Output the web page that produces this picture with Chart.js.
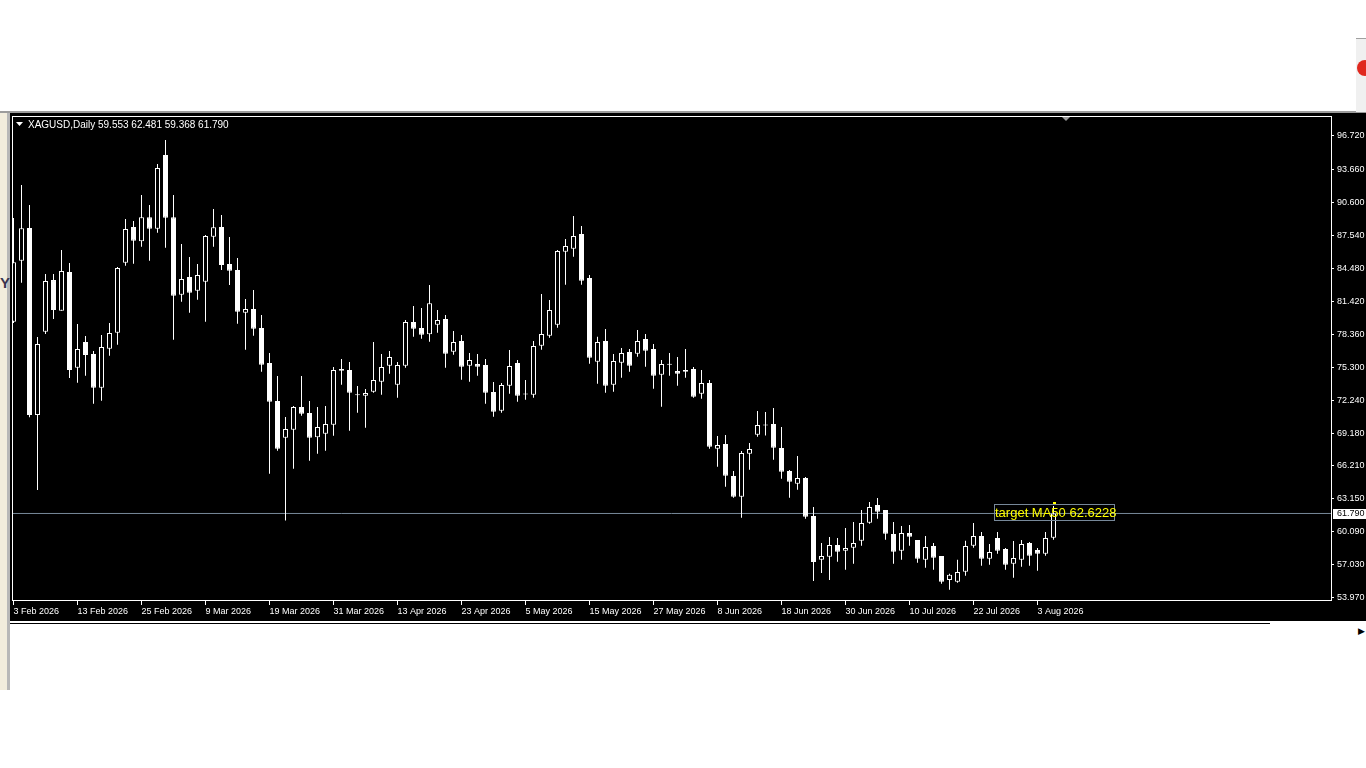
<!DOCTYPE html>
<html>
<head>
<meta charset="utf-8">
<title>XAGUSD,Daily</title>
<script src="https://cdn.jsdelivr.net/npm/chart.js@4.4.1/dist/chart.umd.min.js"></script>
<style>
  html, body { margin: 0; padding: 0; background: #fff; width: 1366px; height: 768px; overflow: hidden; }
  #topline { position: absolute; left: 0; top: 111px; width: 1366px; height: 2px; background: #9c9c9c; }
  #win { position: absolute; left: 10px; top: 113px; width: 1356px; height: 508px; background: #000; }
  #botline { position: absolute; left: 10px; top: 623px; width: 1260px; height: 1px; background: #000; }
  #leftstrip { position: absolute; left: 0; top: 113px; width: 10px; height: 577px; background: #f2eddd;
               border-right: 3px solid #b8b8b8; box-sizing: border-box; }
  #leftY { position: absolute; left: 0; top: 274px; font: bold 15px "Liberation Sans", sans-serif; color: #3a3450; }
  #rightbox { position: absolute; left: 1356px; top: 38px; width: 10px; height: 73px; background: #f0f0f0; border-top: 1px solid #a0a0a0; }
  #reddot { position: absolute; left: 1357px; top: 60px; width: 16px; height: 16px; border-radius: 50%; background: #e0281e; }
  #arrow { position: absolute; left: 1358px; top: 626px; font: 9px "DejaVu Sans", sans-serif; color: #000; }
  canvas { position: absolute; left: 0; top: 0; }
</style>
</head>
<body>
<div id="topline"></div>
<div id="win"></div>
<div id="botline"></div>
<div id="leftstrip"></div>
<div id="leftY">Y</div>
<div id="rightbox"></div>
<div id="reddot"></div>
<div id="arrow">&#9654;</div>
<canvas id="chart" width="1366" height="768"></canvas>
<script>
// Datos de las velas (índice 0 = 3 Feb 2026)
const opens = [
  79.54, 85.18, 88.21, 70.90, 78.61, 83.39, 80.55, 84.14, 75.28, 77.66,
  76.55, 73.43, 77.04, 78.52, 85.00, 88.30, 86.98, 89.20, 88.14, 94.96,
  89.20, 82.04, 83.67, 82.41, 83.24, 87.40, 88.30, 84.87, 84.32, 80.37,
  80.71, 78.95, 75.71, 72.20, 68.80, 69.53, 71.64, 71.09, 68.84, 69.17,
  70.01, 75.16, 75.07, 72.80, 72.69, 73.06, 73.98, 75.47, 73.70, 75.47,
  79.51, 78.95, 78.37, 79.26, 79.79, 76.76, 77.75, 75.47, 75.62, 75.53,
  73.03, 71.30, 73.61, 75.71, 72.86, 72.78, 77.32, 78.24, 79.26, 86.01,
  86.29, 87.65, 83.58, 75.83, 77.75, 73.70, 75.74, 76.73, 76.58, 77.94,
  77.01, 74.63, 75.60, 74.98, 75.07, 75.16, 72.87, 73.86, 67.79, 68.22,
  65.26, 63.34, 67.32, 69.08, 70.00, 70.07, 67.85, 65.72, 64.55, 65.07,
  61.56, 57.51, 57.79, 58.88, 58.35, 58.62, 59.27, 60.94, 62.58, 62.11,
  59.89, 58.35, 59.98, 59.34, 57.51, 58.78, 57.86, 55.64, 55.48, 56.40,
  58.81, 59.71, 57.59, 59.52, 58.50, 57.14, 57.51, 59.06, 58.41, 58.07,
  59.553
];
const highs = [
  89.13, 92.19, 90.34, 78.12, 83.95, 83.95, 86.17, 84.97, 79.32, 78.21,
  76.83, 78.30, 79.42, 84.60, 89.04, 88.85, 91.26, 90.34, 94.13, 96.35,
  91.26, 86.73, 85.52, 84.88, 87.56, 89.97, 89.41, 87.37, 85.43, 81.64,
  82.47, 80.16, 76.64, 74.51, 70.72, 71.74, 74.51, 72.20, 71.64, 71.74,
  75.35, 76.08, 75.80, 73.59, 73.31, 77.66, 76.55, 76.83, 75.80, 79.69,
  80.99, 80.80, 82.93, 80.62, 80.16, 78.67, 78.30, 76.64, 76.55, 76.08,
  73.96, 73.86, 76.92, 75.99, 74.14, 77.75, 82.10, 81.54, 86.17, 87.19,
  89.32, 88.39, 83.86, 78.15, 78.86, 76.55, 77.11, 77.01, 78.77, 78.40,
  77.47, 75.99, 76.64, 76.27, 77.01, 75.35, 75.07, 74.14, 68.96, 69.05,
  65.72, 67.57, 68.31, 71.27, 71.18, 71.55, 69.79, 65.81, 67.11, 65.16,
  62.39, 59.06, 59.61, 59.52, 60.45, 61.00, 62.11, 62.85, 63.22, 62.11,
  61.00, 60.63, 60.73, 59.34, 59.71, 59.06, 57.86, 56.22, 57.51, 59.27,
  60.91, 60.08, 58.97, 60.08, 58.60, 59.24, 59.34, 59.15, 58.60, 60.08,
  62.481
];
const lows = [
  79.42, 83.15, 70.69, 63.96, 78.40, 79.79, 80.55, 74.33, 73.89, 74.54,
  71.95, 72.22, 76.39, 77.41, 84.72, 84.90, 86.48, 85.18, 87.77, 86.38,
  77.87, 81.39, 80.37, 81.57, 79.54, 86.48, 84.32, 82.93, 79.35, 76.94,
  78.24, 74.91, 65.47, 67.60, 61.14, 65.94, 70.84, 66.68, 67.32, 67.60,
  68.99, 73.70, 69.45, 71.12, 69.73, 72.97, 72.78, 74.72, 72.50, 75.28,
  78.15, 77.96, 77.69, 78.52, 75.28, 76.48, 74.17, 73.98, 74.54, 71.95,
  70.75, 71.12, 72.87, 72.14, 72.32, 72.50, 76.94, 78.06, 78.98, 82.96,
  85.55, 82.96, 75.65, 73.80, 72.97, 73.06, 74.35, 74.91, 76.30, 75.37,
  73.33, 71.67, 74.54, 73.61, 74.35, 72.50, 72.41, 67.79, 66.12, 64.27,
  63.25, 61.40, 65.84, 68.90, 69.00, 66.77, 65.01, 63.25, 63.99, 61.31,
  55.54, 56.28, 55.64, 57.33, 56.59, 57.14, 58.81, 60.85, 61.31, 59.36,
  57.14, 57.51, 58.81, 57.24, 56.77, 56.59, 55.29, 54.74, 55.39, 56.03,
  58.62, 56.96, 57.05, 58.07, 56.59, 55.85, 56.87, 56.96, 56.50, 57.88,
  59.368
];
const closes = [
  85.03, 88.18, 70.90, 77.47, 83.30, 80.62, 84.23, 75.07, 77.01, 76.46,
  73.43, 77.20, 78.49, 84.51, 88.11, 87.03, 89.20, 88.14, 93.76, 89.16,
  81.94, 83.49, 82.22, 83.86, 87.47, 88.27, 84.78, 84.26, 80.46, 80.71,
  78.89, 75.56, 72.14, 67.78, 69.60, 71.64, 71.02, 68.80, 69.79, 70.07,
  75.07, 75.00, 72.97, 72.74, 72.94, 74.14, 75.35, 76.27, 75.53, 79.51,
  78.89, 78.33, 81.24, 79.69, 76.58, 77.66, 75.37, 75.99, 75.37, 72.97,
  71.21, 73.68, 75.44, 72.69, 72.80, 77.29, 78.40, 80.62, 86.08, 86.54,
  87.47, 83.33, 76.20, 77.66, 73.61, 75.90, 76.64, 75.47, 77.75, 76.85,
  74.54, 75.62, 75.55, 74.72, 74.91, 72.60, 73.86, 67.97, 68.13, 65.29,
  63.34, 67.39, 67.76, 69.98, 69.94, 67.88, 65.66, 64.73, 65.07, 61.49,
  57.30, 57.86, 58.88, 58.26, 58.60, 59.06, 60.91, 62.39, 61.96, 59.92,
  58.26, 59.98, 59.64, 57.59, 58.69, 57.70, 55.48, 56.13, 56.38, 58.78,
  59.71, 57.59, 58.23, 58.35, 57.05, 57.67, 58.97, 57.88, 58.07, 59.52,
  61.790
];

// Escala de precios y fechas del eje
const yTicks = [96.72, 93.66, 90.60, 87.54, 84.48, 81.42, 78.36, 75.30, 72.24, 69.18, 66.21, 63.15, 60.09, 57.03, 53.97];
const tickIndex = [0, 8, 16, 24, 32, 40, 48, 56, 64, 72, 80, 88, 96, 104, 112, 120, 128];
const tickLabels = ['3 Feb 2026', '13 Feb 2026', '25 Feb 2026', '9 Mar 2026', '19 Mar 2026', '31 Mar 2026',
  '13 Apr 2026', '23 Apr 2026', '5 May 2026', '15 May 2026', '27 May 2026', '8 Jun 2026',
  '18 Jun 2026', '30 Jun 2026', '10 Jul 2026', '22 Jul 2026', '3 Aug 2026'];

const symbolTitle = 'XAGUSD,Daily';
const bidPrice = 61.790;
const targetText = 'target MA50 62.6228';

const FONT = '"Liberation Sans", Arial, sans-serif';

document.addEventListener('DOMContentLoaded', function() {
    const last = closes.length - 1;

    const bodies = opens.map((o, i) => ({ x: i, y: [o, closes[i]] }));
    const wicks = lows.map((l, i) => ({ x: i, y: [l, highs[i]] }));
    const bodyFill = opens.map((o, i) => closes[i] >= o ? '#000000' : '#ffffff');

    // Dibujos extra estilo MT4: marco, cabecera, etiquetas
    const mt4Overlay = {
        id: 'mt4Overlay',
        afterDatasetsDraw(chart) {
            const { ctx, chartArea: a, scales: { x, y } } = chart;
            ctx.save();

            // marco blanco
            ctx.strokeStyle = '#ffffff';
            ctx.lineWidth = 1;
            ctx.strokeRect(a.left + 0.5, a.top + 0.5, a.right - a.left, a.bottom - a.top - 1);

            // cabecera
            ctx.fillStyle = '#ffffff';
            ctx.beginPath();
            ctx.moveTo(16, 122); ctx.lineTo(23, 122); ctx.lineTo(19.5, 126);
            ctx.closePath();
            ctx.fill();
            ctx.font = '10px ' + FONT;
            ctx.textBaseline = 'middle';
            ctx.textAlign = 'left';
            ctx.fillText(symbolTitle, 28, 125);
            const ohlc = [opens[last], highs[last], lows[last], closes[last]].map(v => v.toFixed(3)).join(' ');
            ctx.fillText(ohlc, 98, 125);

            // marcador de desplazamiento del gráfico
            const sx = Math.round(x.getPixelForValue(131.6));
            ctx.fillStyle = '#9a9a9a';
            ctx.beginPath();
            ctx.moveTo(sx - 4, a.top + 1); ctx.lineTo(sx + 4, a.top + 1); ctx.lineTo(sx, a.top + 5);
            ctx.closePath();
            ctx.fill();

            // etiqueta de precio actual
            const by = Math.round(y.getPixelForValue(bidPrice));
            ctx.fillStyle = '#ffffff';
            ctx.fillRect(a.right + 2, by - 4, 33, 10);
            ctx.fillStyle = '#000000';
            ctx.font = '9px ' + FONT;
            ctx.fillText(bidPrice.toFixed(3), a.right + 6, by + 1);

            // texto "target MA50"
            const lx = Math.round(x.getPixelForValue(122.5));
            ctx.strokeStyle = '#778899';
            ctx.strokeRect(lx + 0.5, by - 8.5, 120, 16);
            ctx.fillStyle = '#ffff00';
            ctx.font = '13px ' + FONT;
            ctx.fillText(targetText, lx + 1, by);

            // punto amarillo sobre la última vela
            const px = Math.round(x.getPixelForValue(last));
            ctx.fillRect(px - 1, by - 11, 3, 2);

            ctx.restore();
        }
    };

    const ctx = document.getElementById('chart').getContext('2d');
    new Chart(ctx, {
        data: {
            datasets: [
                {
                    type: 'bar',
                    data: bodies,
                    backgroundColor: bodyFill,
                    borderColor: '#ffffff',
                    borderWidth: 1,
                    borderSkipped: false,
                    barThickness: 5,
                    minBarLength: 1,
                    inflateAmount: 0,
                    grouped: false,
                    clip: 0,
                    order: 0
                },
                {
                    type: 'bar',
                    data: wicks,
                    backgroundColor: '#ffffff',
                    borderWidth: 0,
                    barThickness: 1,
                    inflateAmount: 0,
                    grouped: false,
                    clip: 0,
                    order: 1
                },
                {
                    type: 'line',
                    data: [{ x: -5, y: bidPrice }, { x: 170, y: bidPrice }],
                    borderColor: '#778899',
                    borderWidth: 1,
                    pointRadius: 0,
                    clip: 0,
                    order: 2
                }
            ]
        },
        options: {
            responsive: false,
            animation: false,
            events: [],
            devicePixelRatio: 1,
            layout: { padding: { left: 12, top: 116, right: 0, bottom: 147 } },
            plugins: { legend: { display: false }, tooltip: { enabled: false } },
            scales: {
                x: {
                    type: 'linear',
                    position: 'bottom',
                    offset: false,
                    min: -0.1875,
                    max: 164.6875,
                    afterBuildTicks: (scale) => { scale.ticks = tickIndex.map(v => ({ value: v })); },
                    afterFit: (scale) => { scale.height = 20; },
                    grid: { display: true, offset: false, drawOnChartArea: false, drawTicks: true, tickLength: 4, color: '#ffffff' },
                    border: { display: false },
                    ticks: {
                        autoSkip: false,
                        maxRotation: 0,
                        minRotation: 0,
                        align: 'start',
                        padding: 1,
                        color: '#ffffff',
                        font: { family: FONT, size: 9 },
                        callback: (v) => tickLabels[tickIndex.indexOf(v)]
                    }
                },
                y: {
                    type: 'linear',
                    position: 'right',
                    min: 53.692,
                    max: 98.570,
                    afterBuildTicks: (scale) => { scale.ticks = yTicks.map(v => ({ value: v })); },
                    afterFit: (scale) => { scale.width = 35; },
                    grid: { display: true, drawOnChartArea: false, drawTicks: true, tickLength: 3, color: '#ffffff' },
                    border: { display: false },
                    ticks: {
                        padding: 3,
                        color: '#ffffff',
                        font: { family: FONT, size: 9 },
                        callback: (v) => v.toFixed(3)
                    }
                }
            }
        },
        plugins: [mt4Overlay]
    });
});
</script>
</body>
</html>
